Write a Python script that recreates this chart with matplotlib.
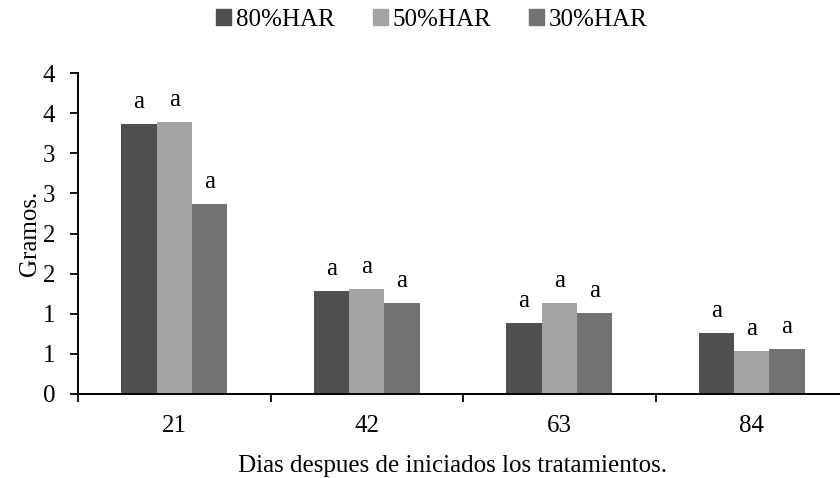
import numpy as np
import matplotlib
matplotlib.use("Agg")
import matplotlib.pyplot as plt
from matplotlib.patches import Patch

# data
dias = ["21", "42", "63", "84"]
series = ["80%HAR", "50%HAR", "30%HAR"]
har80 = [3.36, 1.28, 0.88, 0.76]
har50 = [3.39, 1.31, 1.13, 0.53]
har30 = [2.37, 1.13, 1.01, 0.56]
letras80 = ["a", "a", "a", "a"]
letras50 = ["a", "a", "a", "a"]
letras30 = ["a", "a", "a", "a"]
yticks = [0, 0.5, 1.0, 1.5, 2.0, 2.5, 3.0, 3.5, 4.0]
ytick_labels = ["0", "1", "1", "2", "2", "3", "3", "4", "4"]

colores = ["#4f4f4f", "#a4a4a4", "#727272"]
fs = 18

plt.rcParams['font.family'] = ['Liberation Serif', 'DejaVu Serif']

fig = plt.figure(figsize=(8.4, 4.78), dpi=100)
ax = fig.add_axes([78/840, 1 - 394/478, 770/840, (394 - 73)/478])

x = np.arange(len(dias))
w = 0.183
valores = [har80, har50, har30]
letras = [letras80, letras50, letras30]
for i in range(3):
    pos = x + (i - 1) * w
    ax.bar(pos, valores[i], w, color=colores[i], linewidth=0)
    for px, v, l in zip(pos, valores[i], letras[i]):
        ax.annotate(l, (px, v), xytext=(0, 8), textcoords="offset points",
                    ha="center", va="bottom", fontsize=fs)

ax.set_xlim(-0.5, 3.5)
ax.set_ylim(0, 4)
ax.set_yticks(yticks)
ax.set_yticklabels(ytick_labels, fontsize=fs)
ax.set_xticks(np.arange(-0.5, 3.6, 1.0))
ax.set_xticklabels([])
ax.set_xticks(x, minor=True)
ax.set_xticklabels(dias, minor=True, fontsize=fs)
ax.tick_params(axis="x", which="major", direction="out", length=5.5, width=1.3)
ax.tick_params(axis="x", which="minor", length=0, pad=15)
ax.tick_params(axis="y", direction="out", length=5.5, width=1.3, pad=11)

for s in ["top", "right"]:
    ax.spines[s].set_visible(False)
for s in ["left", "bottom"]:
    ax.spines[s].set_linewidth(1.4)

ax.set_ylabel("Gramos.", fontsize=fs)
ax.yaxis.set_label_coords(-(78 - 30)/770, 0.5)
ax.yaxis.label.set_va("center")
ax.set_xlabel("Dias despues de iniciados los tratamientos.", fontsize=fs)
ax.xaxis.set_label_coords((452 - 78)/770, -(466 - 394)/321)
ax.xaxis.label.set_va("center")

handles = [Patch(color=c) for c in colores]
fig.legend(handles, series, loc="center", bbox_to_anchor=(432/840, 1 - 20/478),
           ncol=3, frameon=False, fontsize=fs, handlelength=0.6, handleheight=0.6,
           handletextpad=0.2, columnspacing=1.5)

fig.savefig("out.png", dpi=100)
